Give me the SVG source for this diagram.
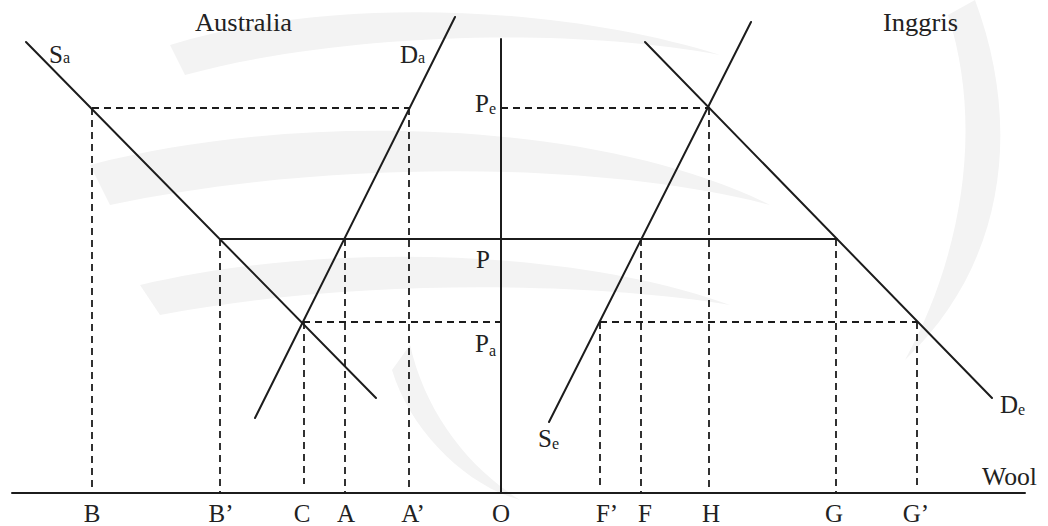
<svg xmlns="http://www.w3.org/2000/svg" width="1048" height="526" viewBox="0 0 1048 526">
<style>
.s{stroke:#1c1c1c;stroke-width:2;fill:none;stroke-linecap:round}
.d{stroke:#1c1c1c;stroke-width:1.8;fill:none;stroke-dasharray:7 5}
.t{font-family:"Liberation Serif","Times New Roman",serif;font-size:25px;fill:#222}
.b{font-family:"Liberation Serif","Times New Roman",serif;font-size:25px;fill:#222;text-anchor:middle}
.sub{font-size:16px}
</style>
<rect width="1048" height="526" fill="#ffffff"/>
<g id="watermark" fill="#f3f3f3">
<path d="M170 45 C330 -5 560 5 720 55 C560 25 330 35 185 75 Z"/>
<path d="M90 165 C300 110 600 120 770 205 C600 160 320 160 110 205 Z"/>
<path d="M140 285 C330 240 580 250 730 305 C580 280 340 280 160 315 Z"/>
<path d="M975 0 C1020 120 1010 260 905 360 C960 260 985 130 948 15 Z"/>
<path d="M410 345 C425 410 465 465 520 500 C465 485 410 430 392 370 Z"/>
</g>
<g id="axes">
<line class="s" x1="12" y1="493" x2="1025" y2="493"/>
<line class="s" x1="501" y1="39" x2="501" y2="493"/>
</g>
<g id="curves">
<line id="Sa" class="s" x1="26" y1="42" x2="376" y2="398"/>
<line id="Da" class="s" x1="455" y1="17" x2="255" y2="418"/>
<line id="Se" class="s" x1="751" y1="22" x2="549" y2="422"/>
<line id="De" class="s" x1="645" y1="42" x2="992" y2="398"/>
<line id="P-line" class="s" x1="220" y1="239" x2="837" y2="239"/>
</g>
<g id="guides">
<line class="d" x1="92" y1="108" x2="409" y2="108"/>
<line class="d" x1="501" y1="108" x2="710" y2="108"/>
<line class="d" x1="303" y1="322" x2="501" y2="322"/>
<line class="d" x1="600" y1="322" x2="917" y2="322"/>
<line class="d" x1="92" y1="108" x2="92" y2="493"/>
<line class="d" x1="220" y1="239" x2="220" y2="493"/>
<line class="d" x1="304" y1="322" x2="304" y2="484"/>
<line class="d" x1="345" y1="239" x2="345" y2="493"/>
<line class="d" x1="409" y1="108" x2="409" y2="493"/>
<line class="d" x1="600" y1="322" x2="600" y2="486"/>
<line class="d" x1="641" y1="239" x2="641" y2="493"/>
<line class="d" x1="709" y1="108" x2="709" y2="493"/>
<line class="d" x1="836" y1="239" x2="836" y2="493"/>
<line class="d" x1="917" y1="322" x2="917" y2="486"/>
</g>
<g id="labels">
<text class="t" x="195" y="31" textLength="97" lengthAdjust="spacingAndGlyphs">Australia</text>
<text class="t" x="883" y="31" textLength="75" lengthAdjust="spacingAndGlyphs">Inggris</text>
<text class="t" x="49" y="63">S<tspan class="sub" dy="0">a</tspan></text>
<text class="t" x="400" y="63">D<tspan class="sub" dy="0">a</tspan></text>
<text class="t" x="475" y="112">P<tspan class="sub" dy="2">e</tspan></text>
<text class="t" x="476" y="268">P</text>
<text class="t" x="475" y="352">P<tspan class="sub" dy="4">a</tspan></text>
<text class="t" x="538" y="447">S<tspan class="sub" dy="2">e</tspan></text>
<text class="t" x="1000" y="413">D<tspan class="sub" dy="2">e</tspan></text>
<text class="t" x="982" y="485" textLength="55" lengthAdjust="spacingAndGlyphs">Wool</text>
<text class="b" x="92" y="522">B</text>
<text class="b" x="221" y="522">B’</text>
<text class="b" x="302" y="522">C</text>
<text class="b" x="346" y="522">A</text>
<text class="b" x="413" y="522">A’</text>
<text class="b" x="501" y="522">O</text>
<text class="b" x="607" y="522">F’</text>
<text class="b" x="645" y="522">F</text>
<text class="b" x="711" y="522">H</text>
<text class="b" x="834" y="522">G</text>
<text class="b" x="916" y="522">G’</text>
</g>
</svg>
